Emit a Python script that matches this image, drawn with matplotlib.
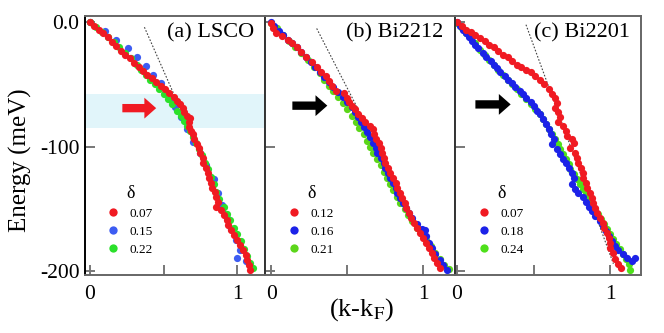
import numpy as np
import matplotlib.pyplot as plt

plt.rcParams['font.family'] = ['Liberation Serif', 'DejaVu Serif']
plt.rcParams['mathtext.fontset'] = 'stix'

# === DATA (k-kF, Energy meV) ===
# (a) LSCO
lsco_007_k = [0.00, 0.03, 0.06, 0.09, 0.12, 0.15, 0.18, 0.21, 0.24, 0.27, 0.30, 0.33, 0.36, 0.39,
              0.42, 0.45, 0.48, 0.51, 0.54, 0.57, 0.59, 0.61, 0.63, 0.64, 0.66, 0.68, 0.67, 0.67,
              0.69, 0.70, 0.71, 0.73, 0.74, 0.75, 0.77, 0.77, 0.79, 0.80, 0.81, 0.82, 0.83, 0.85,
              0.86, 0.87, 0.86, 0.89, 0.91, 0.93, 0.94, 0.96, 0.98, 1.00, 1.02, 1.04, 1.06, 1.07,
              1.08, 1.09]
lsco_007_e = [0, -3, -6, -9, -12, -16, -19, -23, -26, -29, -33, -36, -39, -42,
              -45, -48, -51, -54, -57, -60, -63, -66, -69, -72, -75, -77, -80, -84,
              -87, -90, -94, -98, -101, -105, -109, -113, -117, -121, -125, -129, -133, -136,
              -140, -144, -148, -151, -155, -159, -163, -167, -171, -175, -179, -183, -187, -191,
              -195, -199]
lsco_015_k = [0.00, 0.10, 0.18, 0.26, 0.32, 0.38, 0.43, 0.48, 0.52, 0.55, 0.58, 0.62, 0.66, 0.70,
              0.75, 0.79, 0.84, 0.87, 0.90, 0.93, 0.96, 0.99, 1.02, 1.00, 1.06]
lsco_015_e = [0, -7, -14, -21, -28, -35, -42, -49, -56, -62, -68, -76, -86, -96,
              -105, -115, -126, -137, -147, -157, -166, -175, -183, -189, -192]
lsco_022_k = [0.00, 0.04, 0.08, 0.12, 0.16, 0.20, 0.24, 0.28, 0.32, 0.35, 0.38, 0.41, 0.44, 0.47,
              0.50, 0.53, 0.56, 0.59, 0.62, 0.64, 0.66, 0.68, 0.70, 0.72, 0.74, 0.76, 0.78, 0.80,
              0.82, 0.84, 0.86, 0.88, 0.91, 0.93, 0.95, 0.98, 1.00, 1.03, 1.05, 1.07, 1.09, 1.11]
lsco_022_e = [0, -4, -8, -12, -16, -20, -25, -29, -34, -38, -42, -46, -50, -54,
              -58, -62, -66, -71, -75, -79, -83, -87, -92, -97, -102, -107, -113, -118,
              -124, -130, -136, -142, -148, -154, -159, -165, -170, -176, -182, -188, -193, -197]

# (b) Bi2212
bi2212_012_k = [0.00, 0.01, 0.03, 0.07, 0.11, 0.14, 0.17, 0.20, 0.23, 0.27, 0.30, 0.33, 0.36, 0.38,
                0.40, 0.43, 0.48, 0.50, 0.51, 0.53, 0.55, 0.57, 0.60, 0.62, 0.65, 0.67, 0.68, 0.69,
                0.71, 0.72, 0.73, 0.74, 0.75, 0.77, 0.78, 0.80, 0.82, 0.83, 0.85, 0.86, 0.88, 0.89,
                0.91, 0.92, 0.94, 0.96, 0.98, 1.00, 1.02, 1.04, 1.06, 1.07, 1.09, 1.11]
bi2212_012_e = [-1, -5, -9, -11, -14, -17, -20, -24, -28, -32, -36, -40, -43, -47,
                -51, -55, -57, -61, -64, -67, -70, -74, -77, -80, -83, -86, -90, -94,
                -97, -101, -105, -109, -113, -117, -121, -125, -129, -133, -137, -141, -145, -149,
                -153, -157, -161, -165, -169, -173, -177, -181, -185, -189, -193, -197]
bi2212_016_k = [0.00, 0.02, 0.05, 0.08, 0.11, 0.14, 0.17, 0.20, 0.23, 0.26, 0.29, 0.32, 0.35, 0.38,
                0.41, 0.44, 0.47, 0.50, 0.53, 0.55, 0.57, 0.59, 0.61, 0.63, 0.65, 0.67, 0.69, 0.70,
                0.72, 0.74, 0.75, 0.77, 0.78, 0.80, 0.82, 0.83, 0.85, 0.87, 0.89, 0.91, 0.93, 0.96,
                0.99, 1.01, 1.02, 1.04, 1.06, 1.08, 1.11, 1.13, 1.16]
bi2212_016_e = [0, -3, -7, -10, -14, -17, -20, -24, -28, -32, -36, -40, -44, -48,
                -52, -56, -60, -64, -68, -72, -76, -80, -84, -88, -92, -97, -101, -105,
                -109, -113, -117, -121, -125, -129, -133, -137, -141, -145, -149, -153, -157, -162,
                -166, -167, -172, -177, -181, -186, -191, -195, -199]
bi2212_021_k = [0.00, 0.04, 0.08, 0.12, 0.16, 0.20, 0.24, 0.28, 0.32, 0.35, 0.38, 0.41, 0.44, 0.47,
                0.50, 0.53, 0.56, 0.58, 0.61, 0.63, 0.65, 0.67, 0.70, 0.72, 0.74, 0.76, 0.78, 0.80,
                0.83, 0.85, 0.88, 0.90, 0.93, 0.96, 0.99, 1.02, 1.05, 1.08, 1.11, 1.14, 1.17]
bi2212_021_e = [-1, -5, -10, -15, -20, -25, -30, -36, -41, -46, -51, -55, -60, -65,
                -70, -75, -80, -85, -90, -95, -100, -105, -110, -115, -120, -125, -130, -135,
                -140, -145, -150, -155, -160, -165, -170, -175, -180, -185, -190, -195, -198]

# (c) Bi2201
bi2201_007_k = [0.00, 0.03, 0.06, 0.09, 0.12, 0.15, 0.18, 0.21, 0.24, 0.27, 0.30, 0.33, 0.36, 0.39,
                0.42, 0.45, 0.48, 0.51, 0.54, 0.57, 0.60, 0.62, 0.64, 0.65, 0.64, 0.66, 0.67, 0.66,
                0.69, 0.71, 0.72, 0.75, 0.76, 0.74, 0.77, 0.78, 0.79, 0.81, 0.82, 0.82, 0.84, 0.85,
                0.87, 0.88, 0.89, 0.90, 0.91, 0.93, 0.95, 0.96, 0.98, 0.99, 1.00, 1.00, 1.02, 1.03,
                1.05, 1.07]
bi2201_007_e = [0, -3, -6, -8, -10, -13, -15, -18, -20, -23, -26, -28, -31, -34,
                -36, -38, -40, -43, -46, -50, -54, -58, -61, -65, -69, -72, -76, -80,
                -83, -87, -91, -94, -97, -101, -105, -109, -113, -117, -121, -125, -129, -133,
                -137, -141, -145, -149, -153, -157, -161, -165, -169, -173, -177, -181, -185, -190,
                -194, -197]
bi2201_018_k = [0.00, 0.02, 0.04, 0.06, 0.08, 0.10, 0.12, 0.14, 0.17, 0.19, 0.22, 0.24, 0.26, 0.28,
                0.31, 0.33, 0.36, 0.38, 0.41, 0.43, 0.45, 0.48, 0.50, 0.52, 0.54, 0.56, 0.58, 0.60,
                0.61, 0.63, 0.62, 0.65, 0.67, 0.69, 0.71, 0.73, 0.75, 0.76, 0.75, 0.77, 0.79, 0.82,
                0.84, 0.86, 0.88, 0.90, 0.93, 0.95, 0.97, 0.99, 1.01, 1.03, 1.05, 1.08, 1.11, 1.14,
                1.16]
bi2201_018_e = [0, -3, -6, -9, -12, -15, -18, -21, -25, -28, -31, -34, -37, -40,
                -43, -46, -49, -52, -55, -58, -61, -64, -67, -71, -74, -78, -82, -86,
                -90, -94, -98, -102, -106, -110, -113, -117, -121, -125, -130, -134, -137, -140,
                -144, -148, -152, -156, -160, -164, -168, -172, -176, -180, -183, -186, -189, -192,
                -189]
bi2201_024_k = [0.00, 0.03, 0.06, 0.09, 0.12, 0.15, 0.18, 0.21, 0.24, 0.27, 0.30, 0.33, 0.36, 0.39,
                0.42, 0.45, 0.48, 0.51, 0.54, 0.56, 0.58, 0.60, 0.62, 0.64, 0.66, 0.67, 0.69, 0.71,
                0.73, 0.74, 0.76, 0.78, 0.80, 0.82, 0.84, 0.86, 0.88, 0.90, 0.92, 0.94, 0.96, 0.98,
                1.00, 1.02, 1.04, 1.06, 1.08, 1.10, 1.12, 1.13]
bi2201_024_e = [-1, -5, -9, -13, -17, -22, -26, -30, -34, -38, -42, -46, -50, -54,
                -58, -62, -66, -70, -74, -78, -82, -86, -90, -94, -98, -102, -106, -110,
                -114, -118, -122, -126, -130, -134, -138, -142, -146, -150, -154, -158, -162, -166,
                -170, -174, -178, -182, -186, -190, -194, -199]

# dotted bare-band guide lines (start, end)
guide_a_k = [0.37, 1.10]
guide_a_e = [-4, -200]
guide_b_k = [0.30, 1.11]
guide_b_e = [-5, -198]
guide_c_k = [0.45, 1.02]
guide_c_e = [-2, -194]

# kink arrows (tail k, tip k, energy)
arrow_a = (0.22, 0.45, -69)
arrow_b = (0.14, 0.37, -67)
arrow_c = (0.12, 0.35, -66)

# highlighted energy band in panel (a)
band_lo, band_hi = -85, -58

RED = '#f01a22'
GREEN = '#2be02b'
BLUE_A = '#3d5cf2'
BLUE = '#1c22e8'

panels = [
    dict(title='(a) LSCO', xlim=(-0.034, 1.19), rect=[85, 265],
         series=[(lsco_015_k, lsco_015_e, BLUE_A, '0.15'),
                 (lsco_022_k, lsco_022_e, GREEN, '0.22'),
                 (lsco_007_k, lsco_007_e, RED, '0.07')],
         order=['0.07', '0.15', '0.22'],
         guide=(guide_a_k, guide_a_e), arrow=arrow_a, acolor=RED),
    dict(title='(b) Bi2212', xlim=(-0.04, 1.21), rect=[265, 455],
         series=[(bi2212_021_k, bi2212_021_e, '#5cd61a', '0.21'),
                 (bi2212_016_k, bi2212_016_e, BLUE, '0.16'),
                 (bi2212_012_k, bi2212_012_e, RED, '0.12')],
         order=['0.12', '0.16', '0.21'],
         guide=(guide_b_k, guide_b_e), arrow=arrow_b, acolor='black'),
    dict(title='(c) Bi2201', xlim=(-0.013, 1.20), rect=[455, 641],
         series=[(bi2201_024_k, bi2201_024_e, '#4ee01a', '0.24'),
                 (bi2201_018_k, bi2201_018_e, BLUE, '0.18'),
                 (bi2201_007_k, bi2201_007_e, RED, '0.07')],
         order=['0.07', '0.18', '0.24'],
         guide=(guide_c_k, guide_c_e), arrow=arrow_c, acolor='black'),
]

W, H = 664, 333
fig = plt.figure(figsize=(W / 100, H / 100), dpi=100)
top_px, bot_px = 16, 275

for i, p in enumerate(panels):
    x0, x1 = p['rect']
    ax = fig.add_axes([x0 / W, 1 - bot_px / H, (x1 - x0) / W, (bot_px - top_px) / H])
    ax.set_xlim(*p['xlim'])
    ax.set_ylim(-203, 5)

    if i == 0:
        ax.axhspan(band_lo, band_hi, color='#e1f5fa', lw=0, zorder=0)

    gk, ge = p['guide']
    ax.plot(gk, ge, ls=(0, (1.5, 1.5)), color='#444444', lw=0.8, zorder=1)

    handles = {}
    for k, e, c, lab in p['series']:
        h, = ax.plot(k, e, 'o', color=c, ms=5.2, mec='none', zorder=2, label=lab)
        handles[lab] = h

    t0, t1, ye = p['arrow']
    ax.annotate('', xy=(t1, ye), xytext=(t0, ye),
                arrowprops=dict(arrowstyle='simple,head_length=0.85,head_width=1.5,tail_width=0.6',
                                color=p['acolor'], lw=0, mutation_scale=10, shrinkA=0, shrinkB=0))

    ax.text(0.94, 0.935, p['title'], transform=ax.transAxes, ha='right', va='center',
            fontsize=16)

    leg = ax.legend([handles[n] for n in p['order']], p['order'], title='δ',
                    loc='upper left', bbox_to_anchor=(0.08, 0.385), frameon=False,
                    fontsize=9.5, title_fontsize=13, handletextpad=0.9, labelspacing=0.45,
                    handlelength=0.7, borderpad=0.2, markerscale=1.15)

    ax.set_xticks([0, 0.5, 1])
    ax.set_xticklabels(['0', '', '1'])
    ax.set_yticks([0, -100, -200])
    if i == 0:
        ax.set_yticklabels(['0.0', '-100', '-200'])
    else:
        ax.set_yticklabels([])
    ax.tick_params(direction='in', length=7, width=1.4, color='#777777',
                   labelsize=15.5, pad=7)
    ax.tick_params(axis='y', pad=4)
    for s in ax.spines.values():
        s.set_color('#666666')
        s.set_linewidth(1.4)
    ax.spines['left'].set_color('black' if i == 0 else '#333333')

fig.text(362 / W, 1 - 310 / H, '(k-k$_\\mathrm{F}$)', ha='center', va='center', fontsize=19)
fig.text(20 / W, 1 - 160 / H, 'Energy (meV)', ha='center', va='center', rotation=90, fontsize=18)

fig.savefig('out.png', dpi=100)
